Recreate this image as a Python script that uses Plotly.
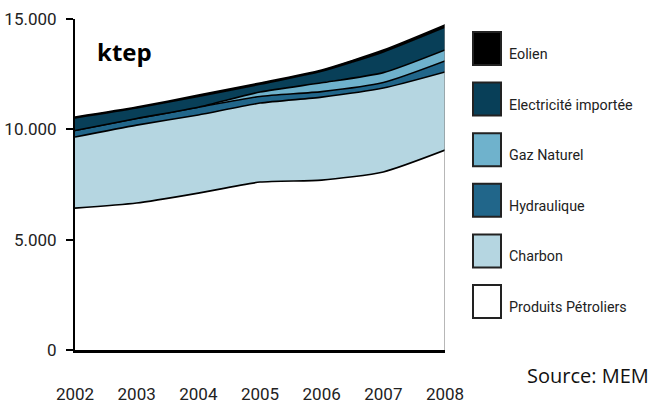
import plotly.graph_objects as go

years = [2002, 2003, 2004, 2005, 2006, 2007, 2008]
produits_petroliers = [6430, 6660, 7110, 7610, 7700, 8070, 9060]
charbon = [3220, 3530, 3540, 3580, 3760, 3800, 3540]
hydraulique = [300, 300, 350, 300, 250, 250, 500]
gaz_naturel = [0, 0, 0, 200, 400, 450, 500]
electricite_importee = [570, 480, 490, 350, 520, 940, 1030]
eolien = [40, 40, 60, 60, 60, 80, 100]

y_tickvals = [0, 5000, 10000, 15000]
y_ticktext = ["0", "5.000", "10.000", "15.000"]

series = [
    ("Produits Pétroliers", produits_petroliers, "#ffffff"),
    ("Charbon", charbon, "#b5d6e1"),
    ("Hydraulique", hydraulique, "#21668a"),
    ("Gaz Naturel", gaz_naturel, "#6fb2cc"),
    ("Electricité importée", electricite_importee, "#083f58"),
    ("Eolien", eolien, "#000000"),
]

fig = go.Figure()
for name, vals, col in series:
    fig.add_trace(go.Scatter(
        x=years, y=vals, name=name, stackgroup="one", mode="lines",
        line=dict(color="#000000", width=1.6, shape="spline", smoothing=0.6),
        fillcolor=col, showlegend=False, hoverinfo="x+y+name",
    ))

totals = [sum(v) for v in zip(*[s[1] for s in series])]
fig.add_shape(type="line", x0=years[-1], x1=years[-1], y0=0, y1=totals[-1],
              xref="x", yref="y", line=dict(color="#888888", width=1.2))

label_font = "Roboto, sans-serif"

# custom legend (top to bottom)
legend_items = list(reversed(series))
top = 32
step = 50.6
for i, (name, vals, col) in enumerate(legend_items):
    y0 = top + i * step
    y1 = y0 + 33
    fig.add_shape(type="rect", xref="paper", yref="paper",
                  x0=(473 - 75) / 370, x1=(501 - 75) / 370,
                  y0=(350 - y1) / 331, y1=(350 - y0) / 331,
                  line=dict(color="#222222", width=2), fillcolor=col)
    fig.add_annotation(text=name, xref="paper", yref="paper",
                       x=(507 - 75) / 370, y=(350 - (y0 + 22)) / 331,
                       xanchor="left", yanchor="middle", showarrow=False,
                       font=dict(family=label_font, size=14.3, color="#222222"))

fig.add_annotation(text="<b>ktep</b>", xref="paper", yref="paper",
                   x=(95 - 75) / 370, y=(350 - 52) / 331,
                   xanchor="left", yanchor="middle", showarrow=False,
                   font=dict(family="Open Sans, sans-serif", size=24, color="#000000"))

fig.add_annotation(text="Source: MEM", xref="paper", yref="paper",
                   x=(525 - 75) / 370, y=(350 - 375) / 331,
                   xanchor="left", yanchor="middle", showarrow=False,
                   font=dict(family="Open Sans, sans-serif", size=20, color="#111111"))

fig.update_layout(
    width=650, height=407,
    margin=dict(l=75, r=205, t=19, b=57),
    paper_bgcolor="white", plot_bgcolor="white",
    showlegend=False,
    xaxis=dict(
        range=[2002, 2008], tickvals=years, ticktext=[str(y) for y in years],
        showgrid=False, zeroline=False, showline=True, linecolor="#000000", linewidth=2.5,
        ticks="", ticklabelstandoff=27, automargin=False,
        tickfont=dict(family=label_font, size=17, color="#222222"),
    ),
    yaxis=dict(
        range=[0, 15000], tickvals=y_tickvals, ticktext=y_ticktext,
        showgrid=False, zeroline=False, showline=True, linecolor="#000000", linewidth=2,
        ticks="outside", ticklen=7, tickwidth=2, tickcolor="#000000",
        ticklabelstandoff=6, automargin=False,
        tickfont=dict(family=label_font, size=17, color="#222222"),
    ),
)

fig.write_html("out.html")
